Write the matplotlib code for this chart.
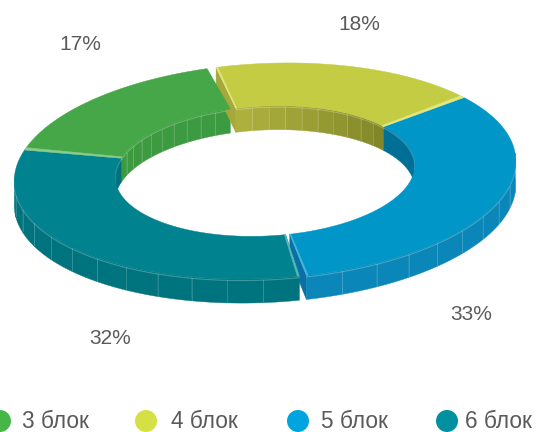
import numpy as np
import matplotlib
matplotlib.use("Agg")
import matplotlib.pyplot as plt
from matplotlib.colors import to_rgb
from matplotlib.patches import Circle, Polygon

plt.rcParams["font.family"] = ["Liberation Sans", "DejaVu Sans"]

labels = ["3 блок", "4 блок", "5 блок", "6 блок"]
values = [17, 18, 33, 32]
top_colors = ["#45a748", "#c3cc42", "#0096c8", "#00838f"]
legend_colors = ["#46b649", "#d5e044", "#00a5e0", "#0090a0"]

# inner wall shade at both ends of a slice (right end first), outer wall, cut face, highlight
inner_shades = [("#3c9a40", "#3d9a41"), ("#7e8527", "#b0b23f"),
                ("#006f96", "#006f96"), ("#00727c", "#00727c")]
inner_facets = [6, 6, 60, 60]
outer_shades = ["#3c9a40", "#7e8527", "#0a86b8", "#00747e"]
face_colors = ["#3c9a40", "#a5a83a", "#0a6fa5", "#00727c"]
light_colors = ["#8ccb8c", "#e2e680", "#4db5d8", "#5cb4ba"]

CX, CY = 265, 171
A_OUT, B_OUT = 251, 107.5
A_IN, B_IN = 150, 65
TILT = np.radians(2.8)
DEPTH = 24
START = 162.3
GAP_TOP = 1.05
GAP_BOTTOM = 0.8


def ring_xy(theta, a, b, drop=0.0):
    t = np.radians(theta)
    u, v = a * np.cos(t), b * np.sin(t)
    x = CX + u * np.cos(TILT) - v * np.sin(TILT)
    y = CY - u * np.sin(TILT) - v * np.cos(TILT) + drop
    return np.column_stack([x, y])


def arc(t0, t1):
    n = max(int(abs(t1 - t0)) * 2, 2)
    return np.linspace(t0, t1, n)


def band(ax, t0, t1, color, zorder):
    # flat ring segment between the inner and outer ellipse
    t = arc(t0, t1)
    pts = np.vstack([ring_xy(t, A_OUT, B_OUT), ring_xy(t[::-1], A_IN, B_IN)])
    ax.add_patch(Polygon(pts, closed=True, fc=color, ec=color, lw=0.3, zorder=zorder))


def wall(ax, t0, t1, a, b, c0, c1, facet, zorder):
    # vertical side split in facets, shade runs from c0 to c1
    if t1 - t0 <= 0:
        return
    n = max(int((t1 - t0) / facet), 1)
    edges = np.linspace(t0, t1, n + 1)
    rgb0, rgb1 = np.array(to_rgb(c0)), np.array(to_rgb(c1))
    for i in range(n):
        t = arc(edges[i], edges[i + 1])
        color = rgb0 + (rgb1 - rgb0) * (i + 0.5) / n
        pts = np.vstack([ring_xy(t, a, b), ring_xy(t[::-1], a, b, DEPTH)])
        ax.add_patch(Polygon(pts, closed=True, fc=color, ec=color, lw=0.3, zorder=zorder))
        if i > 0:
            p = ring_xy(np.array([edges[i]]), a, b)
            ax.plot([p[0, 0]] * 2, [p[0, 1] + 1, p[0, 1] + DEPTH - 1],
                    color="white", alpha=0.16, lw=0.7, zorder=zorder + 0.1)
    rim = ring_xy(arc(t0, t1), a, b, 1.5)
    ax.plot(rim[:, 0], rim[:, 1], color="white", alpha=0.25, lw=0.8, zorder=zorder + 0.1)


def cut_face(ax, theta, color, zorder):
    p = np.vstack([ring_xy(theta, A_OUT, B_OUT), ring_xy(theta, A_IN, B_IN),
                   ring_xy(theta, A_IN, B_IN, DEPTH), ring_xy(theta, A_OUT, B_OUT, DEPTH)])
    ax.add_patch(Polygon(p, closed=True, fc=color, ec=color, lw=0.3, zorder=zorder))


fig = plt.figure(figsize=(5.37, 4.32), dpi=100)
ax = fig.add_axes([0, 0, 1, 1])
ax.set_xlim(0, 537)
ax.set_ylim(432, 0)
ax.axis("off")

spans = np.array(values) / sum(values) * 360
ends = START - np.cumsum(spans)
starts = ends + spans

for i in range(len(values)):
    # slices 0/1 and 2/3 are pulled apart at the top and bottom joints
    hi = starts[i] - (GAP_TOP if i == 1 else GAP_BOTTOM if i == 3 else 0)
    lo = ends[i] + (GAP_TOP if i == 0 else GAP_BOTTOM if i == 2 else 0)

    # back part of the inner wall, seen through the hole
    for shift in (0, -360):
        t0, t1 = max(lo, shift - 3), min(hi, shift + 183)
        wall(ax, t0, t1, A_IN, B_IN, inner_shades[i][0], inner_shades[i][1], inner_facets[i], 1)
    # front part of the outer wall
    for shift in (-180, 180):
        t0, t1 = max(lo, shift - 3), min(hi, shift + 183)
        wall(ax, t0, t1, A_OUT, B_OUT, outer_shades[i], outer_shades[i], 8, 4)

    band(ax, lo, hi, top_colors[i], 5)

    if i == 0:
        band(ax, hi - 1.3, hi, light_colors[i], 6)
    if i == 1:
        cut_face(ax, np.array([hi]), face_colors[i], 3)
        band(ax, lo, lo + 1.3, light_colors[i], 6)
        band(ax, hi - 0.4, hi, light_colors[i], 6)
    if i == 2:
        cut_face(ax, np.array([lo]), face_colors[i], 3)
        band(ax, lo, lo + 0.4, light_colors[i], 6)
    if i == 3:
        band(ax, hi - 0.5, hi, light_colors[i], 6)

percent_x = [80, 359, 471, 110]
percent_y = [45, 24.5, 314, 338.5]
for v, x, y in zip(values, percent_x, percent_y):
    ax.text(x, y, f"{v}%", fontsize=15, color="#5a5a5a", ha="center", va="center")

legend_x = [0, 146, 298, 447]
legend_text_x = [22, 171, 321, 465]
for name, color, x, tx in zip(labels, legend_colors, legend_x, legend_text_x):
    ax.add_patch(Circle((x, 421), 11, fc=color, ec="none"))
    ax.text(tx, 421.5, name, fontsize=16.3, color="#5a5a5a", ha="left", va="center")

fig.savefig("out.png", dpi=100)
